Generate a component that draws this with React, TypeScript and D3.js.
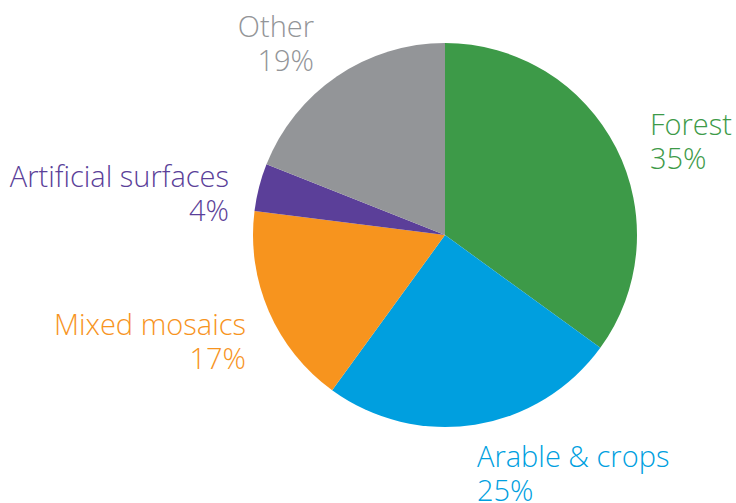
import React, { useRef, useEffect } from "react";
import * as d3 from "d3";

const categories = ["Forest", "Arable & crops", "Mixed mosaics", "Artificial surfaces", "Other"];
const shares = [35, 25, 17, 4, 19];
const colors = ["#3d9a48", "#009fdf", "#f7941e", "#5b3f99", "#939598"];

// label anchors (x, baseline y, alignment) placed by hand like the original
const labelLayout: { x: number; y: number; anchor: string }[] = [
  { x: 650, y: 135, anchor: "start" },
  { x: 477, y: 467, anchor: "start" },
  { x: 246, y: 335, anchor: "end" },
  { x: 229, y: 187, anchor: "end" },
  { x: 314, y: 37, anchor: "end" },
];

const App: React.FC = () => {
  const svgRef = useRef<SVGSVGElement | null>(null);

  useEffect(() => {
    const svg = d3.select(svgRef.current);
    svg.selectAll("*").remove();

    const width = 736;
    const height = 503;
    const cx = 445;
    const cy = 235;
    const radius = 192;

    svg.attr("width", width).attr("height", height);

    const pie = d3
      .pie<number>()
      .sort(null)
      .value((d) => d);

    const arc = d3
      .arc<d3.PieArcDatum<number>>()
      .innerRadius(0)
      .outerRadius(radius);

    const g = svg.append("g").attr("transform", `translate(${cx},${cy})`);

    g.selectAll("path")
      .data(pie(shares))
      .enter()
      .append("path")
      .attr("d", arc)
      .attr("fill", (_, i) => colors[i]);

    const labels = svg
      .selectAll(".label")
      .data(categories)
      .enter()
      .append("text")
      .attr("class", "label")
      .attr("x", (_, i) => labelLayout[i].x)
      .attr("y", (_, i) => labelLayout[i].y)
      .attr("text-anchor", (_, i) => labelLayout[i].anchor)
      .attr("fill", (_, i) => colors[i])
      .style("font-family", "'Open Sans', Lato, sans-serif")
      .style("font-size", "29px")
      .style("font-weight", 300);

    labels
      .append("tspan")
      .attr("x", (_, i) => labelLayout[i].x)
      .text((d) => d);

    labels
      .append("tspan")
      .attr("x", (_, i) => labelLayout[i].x)
      .attr("dy", 34)
      .text((_, i) => `${shares[i]}%`);
  }, []);

  return (
    <div style={{ position: "absolute", left: 0, top: 0 }}>
      <svg ref={svgRef} style={{ display: "block" }} />
    </div>
  );
};

export default App;
